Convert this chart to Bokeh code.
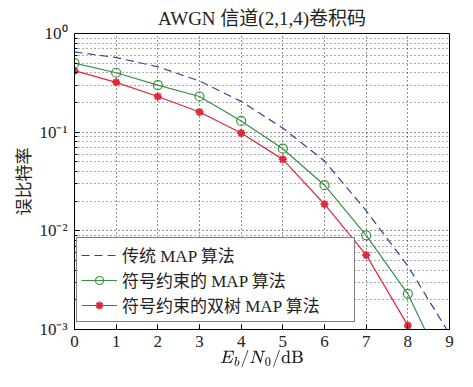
from bokeh.plotting import figure
from bokeh.models import FixedTicker, Legend, LegendItem
from bokeh.embed import file_html
from bokeh.resources import INLINE

snr = [0, 1, 2, 3, 4, 5, 6, 7, 8, 9]
ber_map = [0.65, 0.57, 0.46, 0.33, 0.205, 0.11, 0.051, 0.016, 0.0044, 0.0009]
ber_sym = [0.50, 0.40, 0.30, 0.23, 0.13, 0.068, 0.029, 0.0090, 0.0023, 0.0003]
ber_dual = [0.42, 0.32, 0.23, 0.16, 0.098, 0.053, 0.0186, 0.0057, 0.0011, 0.00014]

names = ["传统 MAP 算法", "符号约束的 MAP 算法", "符号约束的双树 MAP 算法"]
x_ticks = [0, 1, 2, 3, 4, 5, 6, 7, 8, 9]
y_ticks = [1e-3, 1e-2, 1e-1, 1.0]
y_tick_labels = ["10⁻³", "10⁻²", "10⁻¹", "10⁰"]

SERIF = "'Liberation Serif', 'Noto Sans CJK SC'"

p = figure(width=457, height=371, y_axis_type="log", x_range=(0, 9), y_range=(1e-3, 1),
           output_backend="svg", toolbar_location=None,
           min_border_left=74, min_border_right=8, min_border_top=33, min_border_bottom=42)

p.title.text = "AWGN 信道(2,1,4)卷积码"
p.title.align = "center"
p.title.text_font = SERIF
p.title.text_font_size = "19px"
p.title.text_font_style = "normal"
p.title.text_color = "#222222"

p.outline_line_color = "black"
p.outline_line_alpha = 1.0

minor = []
for e in (-3, -2, -1):
    for k in range(2, 10):
        minor.append(k * 10.0 ** e)

p.xaxis.ticker = FixedTicker(ticks=x_ticks)
p.yaxis.ticker = FixedTicker(ticks=y_ticks, minor_ticks=minor)
p.yaxis.major_label_overrides = {v: s for v, s in zip(y_ticks, y_tick_labels)}

for ax in (p.xaxis, p.yaxis):
    ax.axis_line_color = "black"
    ax.major_tick_in = 5
    ax.major_tick_out = 0
    ax.minor_tick_in = 3
    ax.minor_tick_out = 0
    ax.major_label_text_font = SERIF
    ax.major_label_text_font_size = "17px"
    ax.major_label_text_color = "#222222"
    ax.axis_label_text_font = SERIF
    ax.axis_label_text_font_size = "17px"
    ax.axis_label_text_font_style = "normal"
    ax.axis_label_text_color = "#222222"
p.xaxis.minor_tick_line_color = None
p.xaxis.major_label_standoff = 6
p.yaxis.major_label_standoff = 7
p.xaxis.axis_label = r"$$E_b/N_0/\mathrm{dB}$$"
p.yaxis.axis_label = "误比特率"
p.xaxis.axis_label_standoff = 0
p.yaxis.axis_label_standoff = 2

p.xgrid.grid_line_color = "black"
p.xgrid.grid_line_dash = "1 3"
p.xgrid.grid_line_alpha = 0.85
p.ygrid.grid_line_color = "black"
p.ygrid.grid_line_dash = "1 3"
p.ygrid.grid_line_alpha = 0.85
p.ygrid.minor_grid_line_color = "black"
p.ygrid.minor_grid_line_dash = "1 3"
p.ygrid.minor_grid_line_alpha = 0.65

blue = "#3c3c9c"
green = "#3a8f46"
red = "#e0283a"

r1 = p.line(snr, ber_map, line_color=blue, line_width=1.2, line_dash="8 5")
r2 = p.line(snr, ber_sym, line_color=green, line_width=1.2)
r2m = p.scatter(snr, ber_sym, marker="circle", size=9, line_color=green, fill_color=None, line_width=1.2)
r3 = p.line(snr, ber_dual, line_color=red, line_width=1.2)
r3m = p.scatter(snr, ber_dual, marker="asterisk", size=8, line_color=red, line_width=2)

legend = Legend(items=[
    LegendItem(label=names[0], renderers=[r1]),
    LegendItem(label=names[1], renderers=[r2, r2m]),
    LegendItem(label=names[2], renderers=[r3, r3m]),
], location=(2, 7))
legend.label_text_font = SERIF
legend.label_text_font_size = "17px"
legend.label_text_color = "#222222"
legend.glyph_width = 36
legend.label_height = 21
legend.label_width = 228
legend.label_standoff = 5
legend.spacing = 0
legend.padding = 4
legend.margin = 0
legend.border_line_color = "black"
legend.border_line_width = 1.2
legend.background_fill_alpha = 1.0
p.add_layout(legend, "center")

open("out.html", "w").write(file_html(p, INLINE))
